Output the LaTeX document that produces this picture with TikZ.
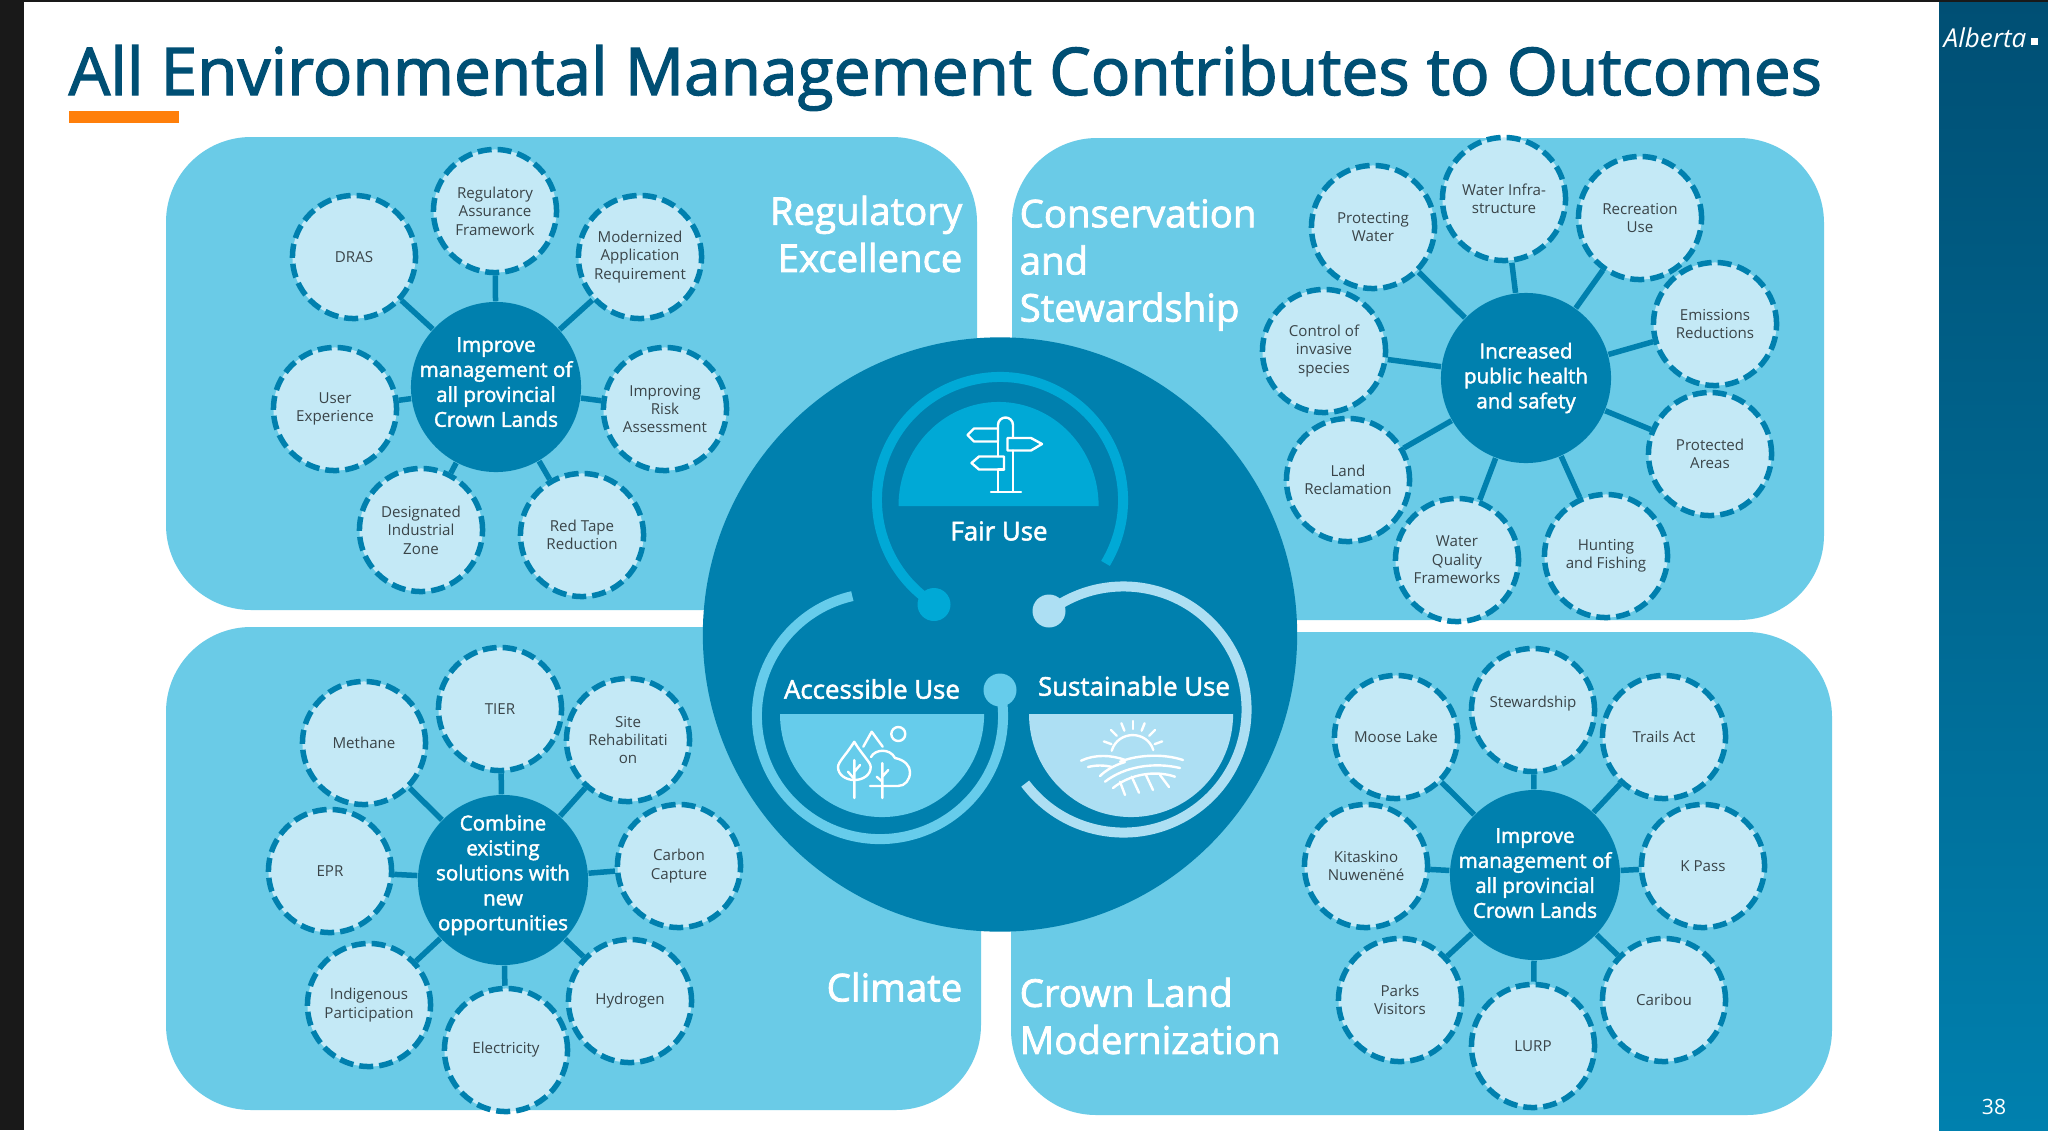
\documentclass[tikz,border=0pt]{standalone}
\usepackage{fontspec}
\setmainfont{Open Sans}
\newfontfamily\headfont[FakeBold=2]{Open Sans}
\usetikzlibrary{calc}

\definecolor{panelcol}{HTML}{6ACBE7}
\definecolor{hubcol}{HTML}{0080AE}
\definecolor{satcol}{HTML}{C4E9F6}
\definecolor{titlecol}{HTML}{004F74}
\definecolor{barcol}{HTML}{FF7F0A}
\definecolor{inkcol}{HTML}{3A4448}
\definecolor{faircol}{HTML}{00A9D6}
\definecolor{accesscol}{HTML}{66CCEB}
\definecolor{sustaincol}{HTML}{ADDFF3}

\tikzset{
  panel/.style={fill=panelcol, rounded corners=.85cm},
  sat/.style={circle, draw=hubcol, fill=satcol, line width=.055cm, dash pattern=on .14cm off .06cm,
    minimum size=1.23cm, inner sep=-.2cm, align=center, text=inkcol,
    font=\fontsize{4.3}{5.25}\selectfont},
  hub/.style={circle, fill=hubcol, minimum size=1.7cm, inner sep=-.3cm, align=center, text=white,
    font=\headfont\fontsize{5.85}{7.1}\selectfont},
  spoke/.style={draw=hubcol, line width=.055cm},
  paneltitle/.style={text=white, inner sep=0pt, font=\headfont\fontsize{10.9}{13.4}\selectfont},
  usetext/.style={text=white, inner sep=0pt, font=\headfont\fontsize{7.35}{8}\selectfont},
  usearc/.style={line width=.1cm},
  ball/.style={circle, fill=#1, minimum size=.33cm, inner sep=0pt},
  icon/.style={draw=white, line width=.024cm, line cap=round, line join=round}
}

\begin{document}
\begin{tikzpicture}[x=.01cm, y=.01cm, yscale=-1]
  \useasboundingbox (0,0) rectangle (2048,1130);
  % slide frame
  \fill[white] (0,0) rectangle (2048,1130);
  \fill[black!90] (0,0) rectangle (24,1130);
  \fill[black!90] (0,0) rectangle (2048,2);
  \shade[top color=titlecol, bottom color=hubcol] (1939,2) rectangle (2048,1130);
  \node[anchor=base west, inner sep=0pt, text=titlecol, font=\headfont\fontsize{18.7}{20}\selectfont] (title) at (68,95)
    {All Environmental Management Contributes to Outcomes};
  \fill[barcol] (69,111) rectangle (179,123);
  \node[text=white, inner sep=0pt, font=\itshape\fontsize{7.4}{9}\selectfont] (logo) at (1985,38) {Alberta};
  \node[fill=white, minimum size=.07cm, inner sep=0pt] (logomark) at (2034,41) {};
  \node[text=white, inner sep=0pt, font=\fontsize{6}{7}\selectfont] (pageno) at (1994,1107) {38};

  % four quadrants
  \fill[panel] (166,137) rectangle (977,610);
  \fill[panel] (1012,138) rectangle (1824,620);
  \fill[panel] (166,627) rectangle (981,1110);
  \fill[panel] (1011,632) rectangle (1832,1115);
  \node[paneltitle, anchor=east, align=right] (regtitle) at (963,234) {Regulatory\\Excellence};
  \node[paneltitle, anchor=west, align=left] (constitle) at (1019,265) {Conservation\\and\\Stewardship};
  \node[paneltitle, anchor=east] (climtitle) at (963,987) {Climate};
  \node[paneltitle, anchor=west, align=left] (crowntitle) at (1019,1016) {Crown Land\\Modernization};

  % top left
  \node[hub] (reghub) at (496,387) {Improve\\management of\\all provincial\\Crown Lands\\[-.15cm]};
  \node[sat] (raf) at (495,211) {Regulatory\\Assurance\\Framework};
  \node[sat] (dras) at (354,257) {DRAS};
  \node[sat] (mar) at (640,257) {Modernized\\Application\\Requirement};
  \node[sat] (ux) at (335,409) {User\\Experience};
  \node[sat] (risk) at (665,409) {Improving\\Risk\\Assessment};
  \node[sat] (diz) at (421,530) {Designated\\Industrial\\Zone};
  \node[sat] (redtape) at (582,535) {Red Tape\\Reduction};
  \foreach \s in {raf,dras,mar,ux,risk,diz,redtape}
    \draw[spoke] (reghub) -- (\s);

  % top right
  \node[hub] (conshub) at (1526,378) {Increased\\public health\\and safety};
  \node[sat] (protwater) at (1373,227) {Protecting\\Water};
  \node[sat] (infra) at (1504,199) {Water Infra-\\structure};
  \node[sat] (recr) at (1640,218) {Recreation\\Use};
  \node[sat] (emis) at (1715,324) {Emissions\\Reductions};
  \node[sat] (areas) at (1710,454) {Protected\\Areas};
  \node[sat] (hunt) at (1606,556) {Hunting\\and Fishing};
  \node[sat] (quality) at (1457,560) {Water\\Quality\\Frameworks};
  \node[sat] (land) at (1348,480) {Land\\Reclamation};
  \node[sat] (invasive) at (1324,351) {Control of\\invasive\\species};
  \foreach \s in {protwater,infra,recr,emis,areas,hunt,quality,land,invasive}
    \draw[spoke] (conshub) -- (\s);

  % bottom left
  \node[hub] (climhub) at (503,880) {Combine\\existing\\solutions with\\new\\opportunities\\[-.1cm]};
  \node[sat] (methane) at (364,743) {Methane};
  \node[sat] (tier) at (500,709) {TIER};
  \node[sat] (site) at (628,740) {Site\\Rehabilitati\\on};
  \node[sat] (carbon) at (679,866) {Carbon\\Capture};
  \node[sat] (hydrogen) at (630,1001) {Hydrogen};
  \node[sat] (elec) at (506,1050) {Electricity};
  \node[sat] (indig) at (369,1005) {Indigenous\\Participation};
  \node[sat] (epr) at (330,871) {EPR};
  \foreach \s in {methane,tier,site,carbon,hydrogen,elec,indig,epr}
    \draw[spoke] (climhub) -- (\s);

  % bottom right
  \node[hub] (crownhub) at (1535,875) {Improve\\management of\\all provincial\\Crown Lands\\[-.21cm]};
  \node[sat] (moose) at (1396,737) {Moose Lake};
  \node[sat] (steward) at (1533,710) {\raisebox{.17cm}{Stewardship}};
  \node[sat] (trails) at (1664,737) {Trails Act};
  \node[sat] (kpass) at (1703,866) {K Pass};
  \node[sat] (caribou) at (1664,1000) {Caribou};
  \node[sat] (lurp) at (1533,1046) {LURP};
  \node[sat] (parks) at (1400,1000) {Parks\\Visitors};
  \node[sat] (kita) at (1366,866) {Kitaskino\\Nuwenëné};
  \foreach \s in {moose,steward,trails,kpass,caribou,lurp,parks,kita}
    \draw[spoke] (crownhub) -- (\s);

  % middle disc
  \fill[hubcol] (1000,634.5) circle[radius=2.97cm];
  \coordinate (faircentre) at (1000,500);
  \coordinate (accesscentre) at (880,716);
  \coordinate (sustaincentre) at (1123.5,709.5);
  \draw[usearc, draw=faircol] (faircentre) ++(31:1.23cm) arc[start angle=31, end angle=-237.7, radius=1.23cm];
  \draw[usearc, draw=accesscol] (accesscentre) ++(-103:1.23cm) arc[start angle=-103, end angle=-365, radius=1.23cm];
  \draw[usearc, draw=sustaincol] (sustaincentre) ++(-127:1.23cm) arc[start angle=-127, end angle=143, radius=1.23cm];
  \node[ball=faircol] (fairball) at (934,604.5) {};
  \node[ball=accesscol] (accessball) at (1000,690) {};
  \node[ball=sustaincol] (sustainball) at (1049,611) {};
  \fill[faircol] (898.5,506) arc[start angle=180, end angle=360, x radius=1cm, y radius=1.04cm] -- cycle;
  \fill[accesscol] (780,714) arc[start angle=180, end angle=0, x radius=1.02cm, y radius=1.03cm] -- cycle;
  \fill[sustaincol] (1029,714) arc[start angle=180, end angle=0, x radius=1.02cm, y radius=1.03cm] -- cycle;
  \node[usetext] (fairuse) at (999,531) {Fair Use};
  \node[usetext] (accessuse) at (872,689) {Accessible Use};
  \node[usetext] (sustainuse) at (1134,686) {Sustainable Use};

  % signpost
  \draw[icon] (998,441) -- (998,428) -- (998,425) arc[start angle=180, end angle=360, radius=.075cm] -- (1013,438);
  \draw[icon] (998,441) -- (998,456.5) (1004,469.5) -- (998,469.5) -- (998,492) (1013,450.5) -- (1013,492) (991,492) -- (1021,492);
  \draw[icon] (1007.5,438) -- (1031,438) -- (1042,444) -- (1031,450.5) -- (1007.5,450.5) -- cycle;
  \draw[icon] (998,428.5) -- (974,428.5) -- (967.5,435) -- (974,441.5) -- (998,441.5);
  \draw[icon] (1004,456.5) -- (979,456.5) -- (971.5,463) -- (979,469.5) -- (1004,469.5) -- cycle;

  % trees, hill and sun
  \draw[icon] (854.3,741.7) .. controls (846,755) and (838,762) .. (838,767) .. controls (838,775) and (846,780) .. (854.3,780)
    .. controls (863,780) and (870.7,775) .. (870.7,767) .. controls (870.7,762) and (862,755) .. (854.3,741.7);
  \draw[icon] (854.3,760) -- (854.3,798) (848,771.7) -- (854.3,779) (860,765) -- (854.3,772);
  \draw[icon] (863.3,746.7) -- (871.7,731.7) -- (882.7,746.7);
  \draw[icon] (898.3,734) circle[radius=.07cm];
  \draw[icon] (871,757) .. controls (875,749) and (890,748) .. (895,758) .. controls (905,760) and (910,766) .. (910,772)
    .. controls (910,780) and (905,786) .. (898,786) -- (870,786);
  \draw[icon] (882.3,763) -- (882.3,798) (876.7,776.7) -- (882.3,781.7) (888.3,770) -- (882.3,776.7);

  % sun over fields
  \draw[icon] (1111.7,750.7) .. controls (1118,730) and (1147,730) .. (1153.3,750);
  \foreach \a in {-160,-135,-112,-90,-68,-45,-20}
    \draw[icon] (1133,752) ++(\a:.23cm) -- ++(\a:.08cm);
  \draw[icon] (1081,760.7) .. controls (1095,754) and (1112,755) .. (1125,760);
  \draw[icon] (1120,761.7) .. controls (1140,754) and (1165,754) .. (1183,760);
  \draw[icon] (1088,767) .. controls (1096,765) and (1104,765) .. (1112,767);
  \draw[icon] (1100,776) .. controls (1106,770) and (1115,765) .. (1125,762);
  \draw[icon] (1105,781.7) .. controls (1125,766) and (1155,762) .. (1180,768);
  \draw[icon] (1113,788) .. controls (1130,774) and (1155,770) .. (1175,776.7);
  \draw[icon] (1120,781.7) -- (1125,795) (1131.7,776.7) -- (1139,792.7) (1146,775) -- (1153,790) (1160,775) -- (1169,787);
\end{tikzpicture}
\end{document}
